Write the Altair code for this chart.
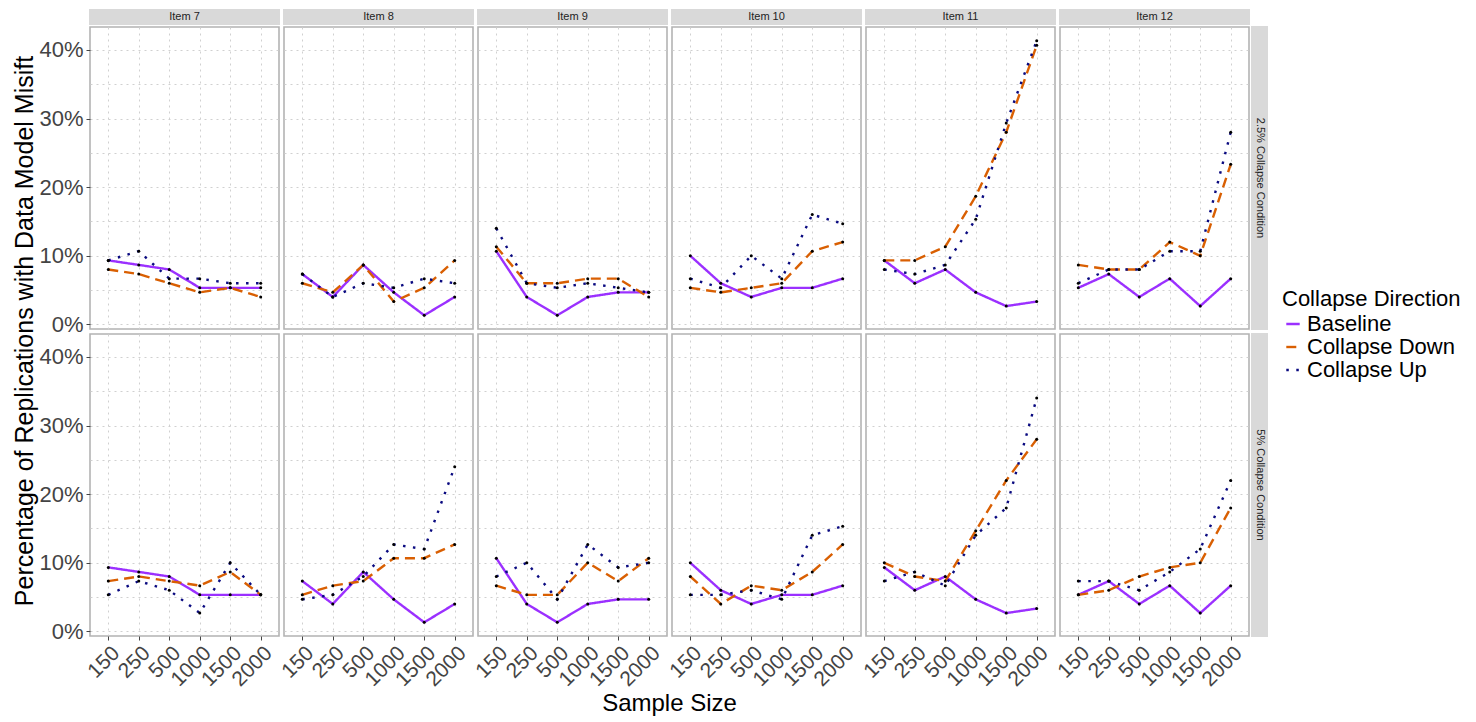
import altair as alt
import pandas as pd

items = ["Item 7", "Item 8", "Item 9", "Item 10", "Item 11", "Item 12"]
conditions = ["2.5% Collapse Condition", "5% Collapse Condition"]
directions = ["Baseline", "Collapse Down", "Collapse Up"]
sizes = ["150", "250", "500", "1000", "1500", "2000"]

# values in percent, per condition -> item -> direction (in order of sizes)
top_baseline = {
    "Item 7": [9.33, 8.67, 8.0, 5.33, 5.33, 5.33],
    "Item 8": [7.33, 4.0, 8.67, 4.67, 1.33, 4.0],
    "Item 9": [10.67, 4.0, 1.33, 4.0, 4.67, 4.67],
    "Item 10": [10.0, 6.0, 4.0, 5.33, 5.33, 6.67],
    "Item 11": [9.33, 6.0, 8.0, 4.67, 2.67, 3.33],
    "Item 12": [5.33, 7.33, 4.0, 6.67, 2.67, 6.67],
}
top_down = {
    "Item 7": [8.0, 7.33, 6.0, 4.67, 5.33, 4.0],
    "Item 8": [6.0, 4.67, 8.67, 3.33, 5.33, 9.33],
    "Item 9": [11.33, 6.0, 6.0, 6.67, 6.67, 4.0],
    "Item 10": [5.33, 4.67, 5.33, 6.0, 10.67, 12.0],
    "Item 11": [9.33, 9.33, 11.33, 18.67, 28.0, 40.67],
    "Item 12": [8.67, 8.0, 8.0, 12.0, 10.0, 23.33],
}
top_up = {
    "Item 7": [9.33, 10.67, 6.67, 6.67, 6.0, 6.0],
    "Item 8": [7.33, 4.0, 6.0, 5.33, 6.67, 6.0],
    "Item 9": [14.0, 6.0, 5.33, 6.0, 5.33, 4.67],
    "Item 10": [6.67, 5.33, 10.0, 6.67, 16.0, 14.67],
    "Item 11": [8.0, 7.33, 8.67, 15.33, 29.33, 41.33],
    "Item 12": [6.0, 8.0, 8.0, 10.67, 10.67, 28.0],
}
bot_baseline = {
    "Item 7": [9.33, 8.67, 8.0, 5.33, 5.33, 5.33],
    "Item 8": [7.33, 4.0, 8.67, 4.67, 1.33, 4.0],
    "Item 9": [10.67, 4.0, 1.33, 4.0, 4.67, 4.67],
    "Item 10": [10.0, 6.0, 4.0, 5.33, 5.33, 6.67],
    "Item 11": [9.33, 6.0, 8.0, 4.67, 2.67, 3.33],
    "Item 12": [5.33, 7.33, 4.0, 6.67, 2.67, 6.67],
}
bot_down = {
    "Item 7": [7.33, 8.0, 7.33, 6.67, 8.67, 5.33],
    "Item 8": [5.33, 6.67, 7.33, 10.67, 10.67, 12.67],
    "Item 9": [6.67, 5.33, 5.33, 10.0, 7.33, 10.67],
    "Item 10": [8.0, 4.0, 6.67, 6.0, 8.67, 12.67],
    "Item 11": [10.0, 8.0, 7.33, 14.67, 22.0, 28.0],
    "Item 12": [5.33, 6.0, 8.0, 9.33, 10.0, 18.0],
}
bot_up = {
    "Item 7": [5.33, 7.33, 6.0, 2.67, 10.0, 5.33],
    "Item 8": [4.67, 5.33, 8.0, 12.67, 12.0, 24.0],
    "Item 9": [8.0, 10.0, 4.67, 12.67, 9.33, 10.0],
    "Item 10": [5.33, 5.33, 6.0, 4.67, 14.0, 15.33],
    "Item 11": [7.33, 8.67, 6.67, 14.0, 18.0, 34.0],
    "Item 12": [7.33, 7.33, 6.0, 8.67, 12.0, 22.0],
}

series = {
    (conditions[0], "Baseline"): top_baseline,
    (conditions[0], "Collapse Down"): top_down,
    (conditions[0], "Collapse Up"): top_up,
    (conditions[1], "Baseline"): bot_baseline,
    (conditions[1], "Collapse Down"): bot_down,
    (conditions[1], "Collapse Up"): bot_up,
}

rows = []
for (cond, direc), table in series.items():
    for item in items:
        for s, v in zip(sizes, table[item]):
            rows.append({"condition": cond, "item": item, "direction": direc,
                         "size": s, "value": v})
df = pd.DataFrame(rows)

W, H = 189, 302
FONT = "Liberation Sans"
GRID = dict(grid=True, gridColor="#d0d0d0", gridDash=[2, 4], gridWidth=1)

color_scale = alt.Scale(domain=directions, range=["#9B30FF", "#D95F02", "#0A0A80"])
dash_scale = alt.Scale(domain=directions, range=[[1, 0], [10, 6], [2.5, 7.5]])

panels = []
for r, cond in enumerate(conditions):
    for c, item in enumerate(items):
        sub = df[(df["condition"] == cond) & (df["item"] == item)]
        bottom = r == 1
        left = c == 0
        xaxis = alt.Axis(
            title=None, labels=bottom, ticks=bottom, domain=False,
            labelAngle=-45, labelFontSize=21, labelColor="#444444",
            labelFont=FONT, tickColor="#444444", tickSize=4, **GRID)
        yaxis = alt.Axis(
            title=None, labels=left, ticks=left, domain=False,
            values=[0, 5, 10, 15, 20, 25, 30, 35, 40],
            labelExpr="datum.value % 10 === 0 ? datum.value + '%' : ''",
            tickOpacity={"condition": {"test": "datum.value % 10 === 0", "value": 1}, "value": 0},
            labelFontSize=22, labelColor="#444444", labelFont=FONT,
            tickColor="#444444", tickSize=4, labelPadding=3, **GRID)
        x = alt.X("size:O", sort=sizes, axis=xaxis,
                  scale=alt.Scale(type="point", padding=0.6))
        y = alt.Y("value:Q", axis=yaxis,
                  scale=alt.Scale(domain=[-0.667, 43.333], nice=False, zero=False))
        base = alt.Chart(sub)
        lines = base.mark_line(strokeWidth=2.4, strokeCap="butt").encode(
            x=x, y=y,
            color=alt.Color("direction:N", scale=color_scale, sort=directions,
                            title="Collapse Direction"),
            strokeDash=alt.StrokeDash("direction:N", scale=dash_scale, sort=directions,
                                      title="Collapse Direction"),
            detail="direction:N",
        )
        pts = base.mark_point(filled=True, color="black", size=9, opacity=1).encode(x=x, y=y)
        layers = [lines, pts]
        if r == 0:
            lab = pd.DataFrame({"label": [item]})
            strip = alt.Chart(lab).mark_rect(color="#d9d9d9").encode(
                x=alt.value(-1), x2=alt.value(W + 1), y=alt.value(-18), y2=alt.value(-2))
            stext = alt.Chart(lab).mark_text(fontSize=11, font=FONT, color="#222222",
                                             baseline="middle").encode(
                x=alt.value(W / 2), y=alt.value(-10), text="label:N")
            layers += [strip, stext]
        if c == 5:
            lab = pd.DataFrame({"label": [cond]})
            strip = alt.Chart(lab).mark_rect(color="#d9d9d9").encode(
                x=alt.value(W + 2), x2=alt.value(W + 19), y=alt.value(-1), y2=alt.value(H + 1))
            stext = alt.Chart(lab).mark_text(fontSize=11, font=FONT, color="#222222",
                                             angle=90, baseline="middle").encode(
                x=alt.value(W + 10.5), y=alt.value(H / 2), text="label:N")
            layers += [strip, stext]
        if r == 0 and c == 0:
            t = pd.DataFrame({"label": ["Percentage of Replications with Data Model Misift"]})
            layers.append(alt.Chart(t).mark_text(fontSize=25, font=FONT, color="black",
                                                 angle=270, baseline="middle").encode(
                x=alt.value(-65), y=alt.value(H + 2), text="label:N"))
        if r == 1 and c == 2:
            t = pd.DataFrame({"label": ["Sample Size"]})
            layers.append(alt.Chart(t).mark_text(fontSize=24, font=FONT, color="black",
                                                 baseline="middle").encode(
                x=alt.value(W + 2.5), y=alt.value(H + 68), text="label:N"))
        panels.append(alt.layer(*layers).properties(width=W, height=H))

chart = alt.concat(*panels, columns=6, spacing=5).properties(
    padding={"left": 4, "top": 0, "right": 0, "bottom": 0},
    bounds="flush",
).configure_view(
    stroke="#b3b3b3", strokeWidth=1.6
).configure_legend(
    orient="none", legendX=1192, legendY=262,
    titleFontSize=22, titleFontWeight="normal", titleColor="black", titleFont=FONT,
    labelFontSize=22, labelColor="black", labelFont=FONT,
    symbolType="stroke", symbolStrokeWidth=2.4, symbolSize=180,
    rowPadding=1, titlePadding=2, labelOffset=3,
).configure_axis(labelFont=FONT)

chart.save("out.html", embed_options={"renderer": "svg", "actions": False})
